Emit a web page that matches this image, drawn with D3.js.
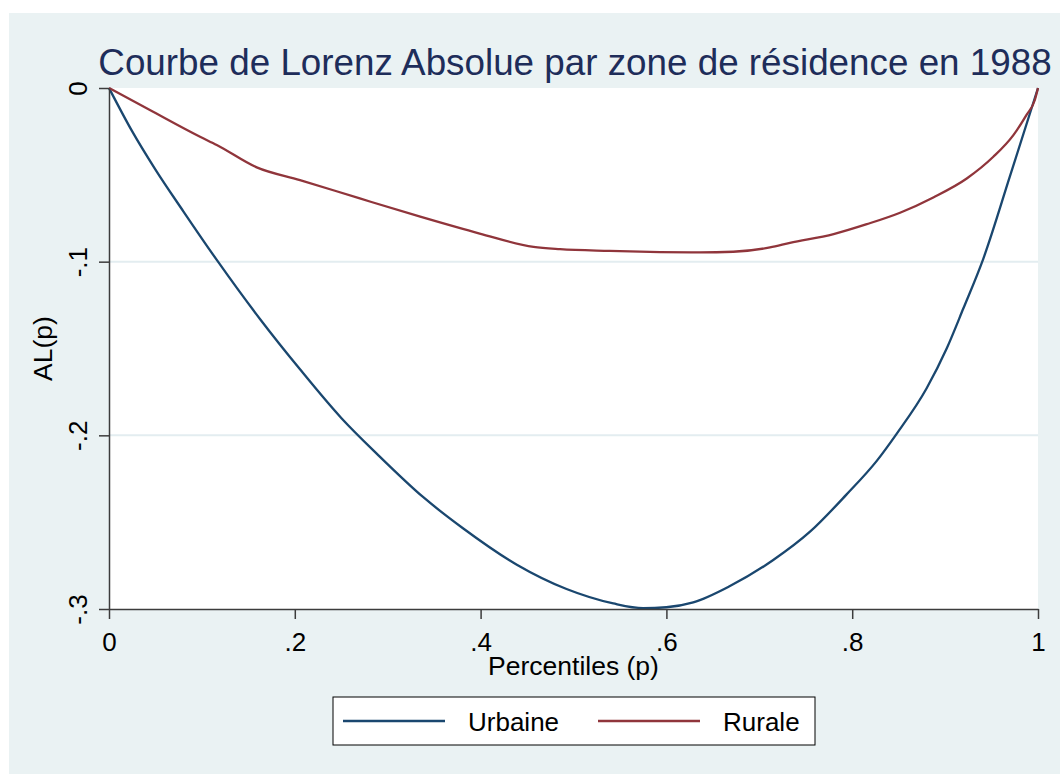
<!DOCTYPE html>
<html>
<head>
<meta charset="utf-8">
<script src="https://cdn.jsdelivr.net/npm/d3@7"></script>
<style>
  body { margin: 0; background: #ffffff; }
  text { font-family: "Liberation Sans", Arial, sans-serif; }
</style>
</head>
<body>
<div id="chart"></div>
<script>
// Courbe de Lorenz Absolue

var urbP  = [0, 0.025, 0.05, 0.08, 0.116, 0.1625, 0.2056, 0.25, 0.29, 0.338, 0.381, 0.439, 0.4925, 0.5428, 0.575, 0.6, 0.6289, 0.6684, 0.715, 0.7546, 0.794, 0.826, 0.848, 0.88, 0.9017, 0.9196, 0.941, 0.97, 1];
var urbAL = [0, -0.025, -0.047, -0.071, -0.099, -0.133, -0.162, -0.190, -0.2115, -0.2355, -0.2535, -0.2745, -0.2885, -0.2968, -0.2995, -0.2990, -0.2962, -0.2868, -0.2718, -0.2555, -0.2340, -0.2150, -0.1990, -0.1730, -0.1500, -0.1270, -0.0985, -0.0505, 0];

var rurP  = [0, 0.044, 0.098, 0.116, 0.159, 0.2056, 0.27, 0.335, 0.399, 0.457, 0.4855, 0.539, 0.593, 0.636, 0.672, 0.7115, 0.733, 0.78, 0.8157, 0.8515, 0.8873, 0.9233, 0.9519, 0.9735, 0.9875, 0.9966, 1];
var rurAL = [0, -0.0127, -0.0281, -0.0328, -0.0457, -0.0530, -0.0636, -0.0741, -0.0838, -0.0915, -0.0928, -0.0938, -0.0945, -0.0947, -0.0943, -0.0918, -0.0892, -0.0841, -0.0784, -0.0718, -0.0630, -0.0521, -0.0396, -0.0271, -0.0156, -0.0069, 0];

var xTicks = [0, 0.2, 0.4, 0.6, 0.8, 1];
var xTickLabels = ["0", ".2", ".4", ".6", ".8", "1"];
var yTicks = [0, -0.1, -0.2, -0.3];
var yTickLabels = ["0", "-.1", "-.2", "-.3"];

var seriesNames = ["Urbaine", "Rurale"];
var seriesColors = ["#1a476f", "#90353b"];

var titleText = "Courbe de Lorenz Absolue par zone de résidence en 1988";
var xTitle = "Percentiles (p)";
var yTitle = "AL(p)";

// svg container
var svgWidth = 1060;
var svgHeight = 774;

// plot region
var plot = { left: 109, right: 1038, top: 88, bottom: 609 };

var svg = d3.select("#chart").append("svg")
  .attr("width", svgWidth)
  .attr("height", svgHeight);

// outer background
svg.append("rect")
  .attr("x", 9).attr("y", 13)
  .attr("width", svgWidth - 9).attr("height", svgHeight - 13)
  .attr("fill", "#eaf2f3");

// plot area
svg.append("rect")
  .attr("x", plot.left).attr("y", plot.top)
  .attr("width", plot.right - plot.left).attr("height", plot.bottom - plot.top)
  .attr("fill", "#ffffff");

// scales
var x = d3.scaleLinear().domain([0, 1]).range([plot.left, plot.right]);
var y = d3.scaleLinear().domain([-0.3, 0]).range([plot.bottom, plot.top]);

// gridlines
svg.append("g").selectAll("line")
  .data([-0.1, -0.2])
  .enter().append("line")
  .attr("x1", plot.left).attr("x2", plot.right)
  .attr("y1", d => y(d)).attr("y2", d => y(d))
  .attr("stroke", "#e3edf0")
  .attr("stroke-width", 2);

// lines
var line = d3.line()
  .x(d => x(d[0]))
  .y(d => y(d[1]))
  .curve(d3.curveMonotoneX);

var urbData = urbP.map((p, i) => [p, urbAL[i]]);
var rurData = rurP.map((p, i) => [p, rurAL[i]]);

[urbData, rurData].forEach(function(data, i) {
  svg.append("path")
    .datum(data)
    .attr("d", line)
    .attr("fill", "none")
    .attr("stroke", seriesColors[i])
    .attr("stroke-width", 2.3)
    .attr("stroke-linejoin", "round");
});

// axes
var bottomAxis = d3.axisBottom(x)
  .tickValues(xTicks)
  .tickSize(10)
  .tickSizeOuter(0)
  .tickFormat((d, i) => xTickLabels[i]);

var leftAxis = d3.axisLeft(y)
  .tickValues(yTicks)
  .tickSize(10)
  .tickSizeOuter(0)
  .tickFormat((d, i) => yTickLabels[i]);

var xAxisG = svg.append("g")
  .attr("transform", `translate(0, ${plot.bottom})`)
  .call(bottomAxis);

var yAxisG = svg.append("g")
  .attr("transform", `translate(${plot.left}, 0)`)
  .call(leftAxis);

[xAxisG, yAxisG].forEach(function(g) {
  g.attr("font-family", null).attr("font-size", null);
  g.select(".domain").attr("stroke", "#3c3c3c").attr("stroke-width", 1.5);
  g.selectAll(".tick line").attr("stroke", "#3c3c3c").attr("stroke-width", 1.5);
  g.selectAll(".tick text")
    .attr("fill", "#000")
    .style("font-size", "26px");
});

xAxisG.selectAll(".tick text")
  .attr("dy", null)
  .attr("y", 42);

yAxisG.selectAll(".tick text")
  .attr("dy", null)
  .attr("x", 0)
  .attr("y", -22)
  .attr("text-anchor", "middle")
  .attr("transform", "rotate(-90)");

// title
svg.append("text")
  .attr("x", 575)
  .attr("y", 75)
  .attr("text-anchor", "middle")
  .attr("fill", "#1e2d5a")
  .style("font-size", "36.8px")
  .text(titleText);

// axis titles
svg.append("text")
  .attr("x", (plot.left + plot.right) / 2)
  .attr("y", 675)
  .attr("text-anchor", "middle")
  .style("font-size", "26.5px")
  .text(xTitle);

svg.append("text")
  .attr("transform", `translate(52, ${(plot.top + plot.bottom) / 2}) rotate(-90)`)
  .attr("text-anchor", "middle")
  .style("font-size", "26.5px")
  .text(yTitle);

// legend
var legend = svg.append("g");
legend.append("rect")
  .attr("x", 333).attr("y", 697)
  .attr("width", 482).attr("height", 48)
  .attr("fill", "#ffffff")
  .attr("stroke", "#000")
  .attr("stroke-width", 1);

var legendX = [343, 598];
seriesNames.forEach(function(name, i) {
  legend.append("line")
    .attr("x1", legendX[i]).attr("x2", legendX[i] + 102)
    .attr("y1", 721).attr("y2", 721)
    .attr("stroke", seriesColors[i])
    .attr("stroke-width", 2.3);
  legend.append("text")
    .attr("x", legendX[i] + 125)
    .attr("y", 730.5)
    .style("font-size", "26px")
    .text(name);
});
</script>
</body>
</html>
